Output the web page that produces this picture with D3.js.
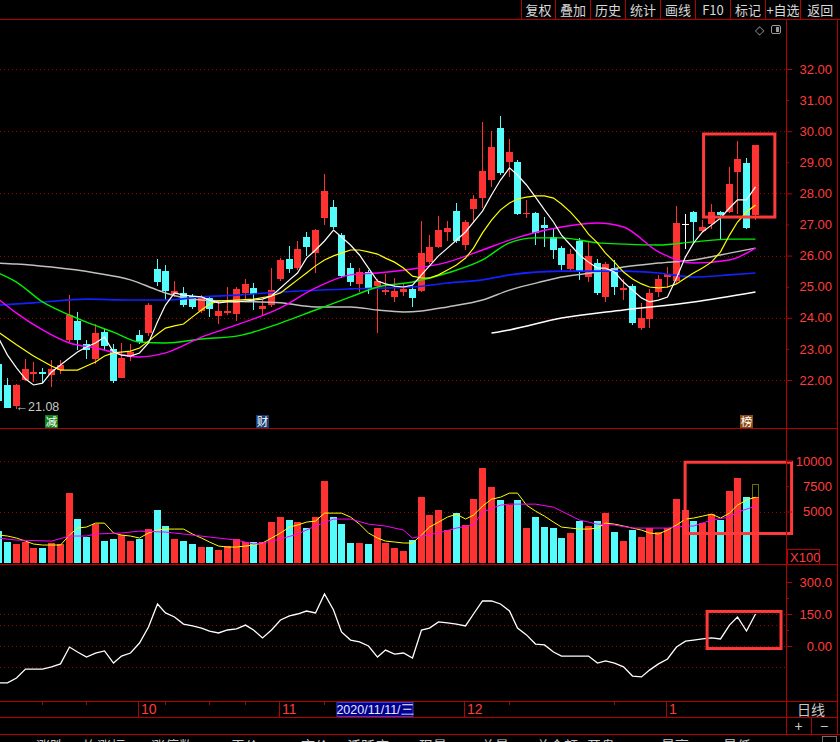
<!DOCTYPE html>
<html>
<head>
<meta charset="utf-8">
<script src="https://cdn.jsdelivr.net/npm/d3@7"></script>
<style>
  body { margin: 0; background: #000; overflow: hidden; }
  svg { display: block; }
  text { font-family: "Liberation Sans", Arial, sans-serif; }
  .cjk { font-family: "Noto Sans CJK SC", sans-serif; }
</style>
</head>
<body>
<div id="chart"></div>
<script>
// ---- data ----
const dates = [
  "2020-09-09","2020-09-10","2020-09-11","2020-09-14","2020-09-15","2020-09-16","2020-09-17","2020-09-18",
  "2020-09-21","2020-09-22","2020-09-23","2020-09-24","2020-09-25","2020-09-28","2020-09-29","2020-09-30",
  "2020-10-09","2020-10-12","2020-10-13","2020-10-14","2020-10-15","2020-10-16","2020-10-19","2020-10-20",
  "2020-10-21","2020-10-22","2020-10-23","2020-10-26","2020-10-27","2020-10-28","2020-10-29","2020-10-30",
  "2020-11-02","2020-11-03","2020-11-04","2020-11-05","2020-11-06","2020-11-09","2020-11-10","2020-11-11",
  "2020-11-12","2020-11-13","2020-11-16","2020-11-17","2020-11-18","2020-11-19","2020-11-20","2020-11-23",
  "2020-11-24","2020-11-25","2020-11-26","2020-11-27","2020-11-30",
  "2020-12-01","2020-12-02","2020-12-03","2020-12-04","2020-12-07","2020-12-08","2020-12-09","2020-12-10",
  "2020-12-11","2020-12-14","2020-12-15","2020-12-16","2020-12-17","2020-12-18","2020-12-21","2020-12-22",
  "2020-12-23","2020-12-24","2020-12-25","2020-12-28","2020-12-29","2020-12-30","2020-12-31",
  "2021-01-04","2021-01-05","2021-01-06","2021-01-07","2021-01-08","2021-01-11","2021-01-12","2021-01-13",
  "2021-01-14","2021-01-15","2021-01-18"
];

const opens = [22.51,21.84,21.16,22.00,22.19,22.26,22.16,22.32,23.29,23.90,
  23.16,22.68,23.54,23.00,22.06,22.74,23.45,23.51,25.57,25.50,
  24.77,24.80,24.70,24.22,24.64,24.06,24.15,24.12,24.80,24.96,
  24.28,24.41,25.25,25.89,25.60,26.60,26.08,27.21,27.56,26.66,
  25.60,25.09,25.47,25.02,24.83,24.67,24.83,24.93,24.86,25.79,
  26.28,26.76,27.43,26.34,27.50,27.85,28.43,30.10,29.01,29.01,
  27.34,27.37,26.98,26.60,26.24,25.57,26.47,25.31,25.76,24.67,
  25.60,24.89,25.02,23.67,23.96,24.83,25.31,25.18,27.03,27.40,
  26.79,27.02,27.40,27.40,28.69,28.98,27.31];
const highs = [22.55,22.06,21.88,22.68,22.58,22.39,22.64,22.64,24.73,24.19,
  23.29,23.80,23.64,23.16,23.19,23.16,23.61,24.48,25.89,25.70,
  25.18,24.99,24.77,24.73,24.70,24.57,24.99,24.99,25.25,25.12,
  24.57,25.60,25.92,26.31,26.47,26.76,26.86,28.62,27.79,26.73,
  25.76,25.60,25.54,25.25,25.41,25.28,25.09,25.02,27.11,26.66,
  27.27,27.11,27.69,27.14,27.95,30.30,30.01,30.49,29.75,29.07,
  27.79,27.40,27.24,26.86,26.31,26.21,26.57,26.44,25.89,25.79,
  25.86,25.25,25.09,24.48,24.93,25.38,25.63,27.60,27.34,27.43,
  27.14,27.66,27.43,28.85,29.68,29.14,29.56];
const lows = [21.30,21.10,21.08,21.97,21.94,21.90,21.77,22.19,23.22,22.96,
  22.68,22.51,22.96,21.90,22.06,22.61,23.16,23.41,25.02,24.57,
  24.67,24.35,24.28,24.15,24.03,23.80,24.09,23.90,24.60,24.25,
  24.09,24.35,25.18,25.44,25.54,25.99,25.44,26.98,26.86,25.28,
  25.02,24.83,24.77,23.51,24.73,24.51,24.70,24.35,24.83,25.73,
  26.24,26.47,26.41,26.18,27.05,27.53,28.21,28.59,28.53,27.31,
  27.21,26.34,26.28,25.89,25.54,25.50,25.22,25.15,24.73,24.51,
  24.73,24.57,23.77,23.61,23.67,24.67,24.96,25.12,26.21,26.44,
  26.76,26.86,26.50,27.37,27.34,26.86,27.14];
const closes = [21.32,21.10,21.84,22.35,22.26,22.19,22.35,22.48,24.09,23.29,
  22.96,23.51,23.09,21.97,22.71,22.90,23.22,24.41,25.15,24.86,
  24.86,24.41,24.35,24.67,24.28,24.22,24.22,24.93,25.09,24.77,
  24.38,24.89,25.86,25.57,26.21,26.28,26.82,28.08,26.92,25.34,
  25.15,25.47,24.96,25.18,24.89,24.86,24.93,24.64,26.08,26.28,
  26.82,26.89,26.47,27.08,27.82,28.72,29.49,28.66,29.33,27.34,
  27.37,26.73,26.89,26.18,25.70,26.05,25.50,25.99,24.80,25.73,
  24.99,24.96,23.83,23.99,24.80,25.25,25.41,27.05,27.03,27.08,
  26.92,27.40,27.31,28.30,29.11,26.89,29.56];

// price moving averages (MA5 per day, the others as [day index, value])
const ma5 = [23.35,22.80,22.39,22.03,21.84,21.90,22.26,22.48,22.71,22.90,
  23.06,23.19,23.38,22.90,22.80,22.77,22.87,23.19,23.87,24.41,
  24.80,24.73,24.70,24.67,24.57,24.48,24.51,24.51,24.54,24.57,
  24.60,24.70,24.96,25.22,25.44,25.92,26.18,26.47,26.82,26.60,
  26.34,26.02,25.60,25.18,25.09,25.02,24.99,25.05,25.38,25.67,
  25.99,26.24,26.50,26.76,27.08,27.43,27.95,28.43,28.82,28.59,
  28.27,27.88,27.47,27.08,26.66,26.34,26.02,25.79,25.60,25.60,
  25.47,25.15,24.89,24.64,24.51,24.57,24.67,25.28,25.96,26.40,
  26.76,26.98,27.21,27.53,27.79,27.79,28.21];
const ma10 = [[0,23.54],[2,23.13],[4,22.77],[6,22.45],[7,22.32],[9,22.32],[10,22.45],[11,22.58],[12,22.77],
  [13,22.87],[15,22.93],[16,23.03],[17,23.25],[18,23.48],[19,23.67],[20,23.74],[21,23.80],[22,24.03],
  [23,24.25],[24,24.44],[25,24.54],[27,24.57],[29,24.60],[31,24.70],[32,24.80],[33,25.02],[34,25.22],
  [35,25.44],[36,25.67],[37,25.86],[38,25.99],[39,26.08],[40,26.18],[41,26.18],[42,26.12],[43,26.05],
  [44,25.92],[45,25.79],[46,25.60],[47,25.34],[48,25.28],[49,25.28],[50,25.38],[51,25.54],[52,25.70],
  [53,25.92],[54,26.24],[55,26.73],[56,27.14],[57,27.47],[58,27.69],[59,27.82],[60,27.88],[61,27.92],
  [62,27.92],[63,27.85],[64,27.66],[65,27.40],[66,27.08],[67,26.69],[68,26.41],[69,26.08],[70,25.79],
  [71,25.47],[72,25.25],[73,25.09],[74,24.99],[75,24.96],[76,24.99],[77,25.09],[78,25.28],[79,25.44],
  [80,25.60],[81,25.79],[82,26.12],[83,26.66],[84,27.08],[85,27.40],[86,27.63]];
const ma20 = [[0,24.60],[2,24.15],[5,23.61],[8,23.19],[11,23.03],[16,22.74],[19,22.87],[23,23.38],[27,23.77],
  [32,24.32],[36,24.96],[40,25.38],[43,25.44],[47,25.57],[51,25.79],[55,26.18],[58,26.50],[64,26.92],
  [68,27.05],[71,26.92],[75,26.12],[79,25.76],[83,25.86],[86,26.24]];
const ma30 = [[0,25.44],[2,25.15],[5,24.51],[8,24.09],[10,23.86],[13,23.54],[16,23.22],[19,23.19],[23,23.32],
  [27,23.41],[32,23.83],[36,24.25],[40,24.67],[43,24.99],[47,25.15],[51,25.44],[55,25.86],[58,26.41],
  [61,26.57],[64,26.57],[68,26.41],[71,26.37],[75,26.34],[79,26.44],[83,26.53],[86,26.53]];
const ma60 = [[0,24.41],[4,24.48],[10,24.60],[15,24.57],[19,24.57],[23,24.67],[27,24.73],[32,24.83],[40,24.93],
  [47,24.99],[51,25.12],[55,25.22],[58,25.38],[64,25.50],[71,25.50],[75,25.44],[79,25.31],[83,25.38],[86,25.44]];
const ma120 = [[0,25.76],[2,25.73],[6,25.63],[11,25.44],[15,25.22],[18,24.89],[19,24.80],[23,24.57],[32,24.48],
  [36,24.35],[40,24.35],[43,24.25],[46,24.19],[48,24.22],[51,24.35],[55,24.57],[58,24.89],[62,25.18],
  [64,25.31],[68,25.47],[71,25.63],[75,25.76],[79,25.86],[83,26.08],[86,26.24]];
const ma250 = [[56,23.51],[58,23.61],[64,23.99],[71,24.25],[79,24.51],[86,24.83]];

// volume in units of 100 shares
const volumes = [3060,1980,1780,1980,1380,1380,1880,1780,6820,4250,
  2470,3750,2070,2270,2670,2070,2270,3260,5140,3560,
  2270,2070,1780,1480,1480,1190,1580,2270,1980,1980,
  1980,3950,4450,4150,3950,3360,4450,8000,4450,3750,
  1880,1880,1780,3360,1880,1380,1090,2170,6420,4640,
  5140,3160,4840,3660,6220,9290,7410,6130,5630,6130,
  3360,4450,3460,3360,2370,2870,4050,3560,4050,4840,
  2960,2070,3160,2470,3360,2960,3360,6220,5140,4050,
  3850,4740,4150,7010,8300,6420,6420];
const volMa5 = [2670,2570,2370,2070,1780,1680,1680,1680,2670,3360,
  3460,3850,3850,2870,2670,2570,2370,2870,3160,3260,
  3260,3260,2770,2370,1980,1580,1480,1480,1580,1680,
  1880,2370,2870,3460,3660,3950,4050,4840,4840,4840,
  4450,3750,2870,2370,2070,1980,1880,1880,2670,3460,
  3950,4450,4740,4250,4640,5530,6220,6420,6820,6820,
  5630,5040,4540,3950,3460,3360,3260,3260,3360,3850,
  3750,3560,3360,3160,2870,2770,3160,3660,4250,4350,
  4540,4740,4350,4840,5630,6130,6420];
const volMa10 = [[0,2370],[2,2170],[6,2070],[8,2570],[10,2570],[11,2770],[14,2870],[16,3060],[19,2960],
  [21,2770],[24,2470],[27,2170],[29,1780],[30,1880],[32,2270],[34,2770],[36,3560],[38,4250],[40,4250],
  [42,3750],[44,3560],[46,3160],[47,2370],[48,2570],[50,2870],[52,3360],[54,3660],[55,4940],[57,5630],
  [58,5730],[61,5730],[63,5430],[66,4150],[68,3750],[70,3660],[72,3360],[74,3360],[76,3360],[78,3560],
  [79,3560],[81,4150],[83,4450],[84,4940],[86,5530]];
const projectedVolume = 7700;

// lower indicator
const indicator = [-173,-173,-150,-108,-108,-108,-98,-84,-5,-28,
  -52,-33,-23,-80,-47,-33,14,89,197,155,
  136,103,94,84,70,61,75,80,98,75,
  38,75,122,141,150,164,155,244,169,66,
  28,19,0,-52,-19,-38,-33,-56,75,84,
  113,108,103,94,150,211,211,197,164,84,
  52,9,5,-28,-47,-47,-47,-47,-80,-70,
  -80,-98,-141,-145,-113,-84,-61,-5,23,28,
  33,38,33,98,136,70,150];

// ticks and labels
const priceTicks = [22,23,24,25,26,27,28,29,30,31,32];
const priceGrid = [22,24,26,28,30,32];
const volTicks = [5000,7500,10000];
const volGrid = [5000,10000];
const indTicks = [0,75,150,225,300];
const indGrid = [-100,0,100,150];
const monthTicks = [["2020-10-09","10"],["2020-11-02","11"],["2020-12-01","12"],["2021-01-04","1"]];
const weekTicks = ["2020-09-16","2020-09-23","2020-10-14","2020-10-21","2020-10-27","2020-11-09","2020-12-08","2020-12-24"];
const cursorDate = "2020-11-11", cursorLabel = "2020/11/11/三";
const events = [["2020-09-17","减","#12801a"],["2020-10-29","财","#163e72"],["2021-01-15","榜","#8a4a12"]];
const toolButtons = ["复权","叠加","历史","统计","画线","F10","标记","+自选","返回"];
const bottomTabs = ["涨跌","均涨幅","涨停数","平价","市价","活跃度","现量","总量","总金额","开盘","最高","最低"];
// highlight boxes: [first day index, last day index, upper value, lower value]
const priceBox = [80.1, 88.2, 29.91, 27.24];
const volBox = [78.0, 90.1, 9880, 2820];
const indBox = [80.5, 88.9, 162, -12];

// ---- layout ----
const W = 840, H = 742;
const plotR = 786, sideR = 837;
const RED = "#ff3232", CYAN = "#54fcfc", FRAME = "#b40000", GRID = "#a00000",
      LABEL = "#ff3c3c", GREY = "#c8c8c8";

const svg = d3.select("#chart").append("svg").attr("width", W).attr("height", H);
svg.append("rect").attr("width", W).attr("height", H).attr("fill", "#000");
const defs = svg.append("defs");

const x = d3.scaleBand().domain(dates).range([-5.7, 759.9]).paddingInner(0.2).paddingOuter(0.1);
const bw = Math.round(x.bandwidth());
const bx = d => Math.round(x(d));
const mid = d => bx(d) + 3.5;
const kx = k => x(dates[0]) + x.bandwidth() / 2 + k * x.step();

const yP = d3.scaleLinear().domain([22, 32]).range([380, 69]);
const yV = d3.scaleLinear().domain([0, 10000]).range([562, 461]);
const yI = d3.scaleLinear().domain([0, 300]).range([646, 582]);

const candles = dates.map((d, i) => ({date: d, o: opens[i], h: highs[i], l: lows[i], c: closes[i], v: volumes[i]}));
const candleColor = d => d.c > d.o ? RED : d.c < d.o ? CYAN : "#ffffff";
const volColor = d => d.c >= d.o ? RED : CYAN;

function panel(id, y0, y1) {
  defs.append("clipPath").attr("id", id).append("rect")
    .attr("x", 0).attr("y", y0).attr("width", plotR).attr("height", y1 - y0);
  return svg.append("g").attr("clip-path", `url(#${id})`);
}
function dotted(g, scale, vals) {
  g.selectAll(null).data(vals).enter().append("line")
    .attr("x1", 0).attr("x2", plotR)
    .attr("y1", v => Math.round(scale(v)) + 0.5).attr("y2", v => Math.round(scale(v)) + 0.5)
    .attr("stroke", GRID).attr("stroke-dasharray", "1,3");
}
function pairLine(g, scale, pts, color, width, curve) {
  g.append("path").datum(pts)
    .attr("d", d3.line().x(p => mid(dates[p[0]])).y(p => scale(p[1])).curve(curve || d3.curveLinear))
    .attr("fill", "none").attr("stroke", color).attr("stroke-width", width);
}
const asPairs = arr => arr.map((v, i) => [i, v]);

// ---- price panel ----
const gMain = panel("clipMain", 20, 428);
dotted(gMain, yP, priceGrid);

const cg = gMain.selectAll("g.candle").data(candles).enter().append("g").attr("class", "candle");
cg.append("line")
  .attr("x1", d => mid(d.date)).attr("x2", d => mid(d.date))
  .attr("y1", d => Math.round(yP(d.h))).attr("y2", d => Math.round(yP(d.l)))
  .attr("stroke", candleColor).attr("shape-rendering", "crispEdges");
cg.append("rect")
  .attr("x", d => bx(d.date)).attr("width", bw)
  .attr("y", d => Math.round(yP(Math.max(d.o, d.c))))
  .attr("height", d => Math.max(1, Math.round(yP(Math.min(d.o, d.c))) - Math.round(yP(Math.max(d.o, d.c)))))
  .attr("fill", candleColor).attr("shape-rendering", "crispEdges");

pairLine(gMain, yP, ma120, "#c0c0c0", 1.5, d3.curveMonotoneX);
pairLine(gMain, yP, ma60, "#1420ff", 1.6, d3.curveMonotoneX);
pairLine(gMain, yP, ma30, "#00ee00", 1.4, d3.curveMonotoneX);
pairLine(gMain, yP, ma20, "#ff00ff", 1.4, d3.curveMonotoneX);
pairLine(gMain, yP, ma10, "#ffff00", 1.2);
pairLine(gMain, yP, asPairs(ma5), "#ffffff", 1.2);
pairLine(gMain, yP, ma250, "#ffffff", 1.5, d3.curveMonotoneX);

// lowest low marker
const lowI = d3.minIndex(lows);
gMain.append("text").attr("x", mid(dates[lowI]) - 1).attr("y", yP(lows[lowI]) + 2)
  .attr("fill", GREY).style("font-size", "12.5px").text("←" + lows[lowI].toFixed(2));

// event badges
const ev = svg.selectAll("g.ev").data(events).enter().append("g");
ev.append("rect").attr("x", d => mid(d[0]) - 6.5).attr("y", 415).attr("width", 13).attr("height", 13).attr("fill", d => d[2]);
ev.append("text").attr("class", "cjk").attr("x", d => mid(d[0])).attr("y", 426)
  .attr("text-anchor", "middle").attr("fill", "#ffffff").style("font-size", "11.5px").text(d => d[1]);

// ---- volume panel ----
const gVol = panel("clipVol", 429, 564);
dotted(gVol, yV, volGrid);
gVol.selectAll("rect.vol").data(candles).enter().append("rect")
  .attr("x", d => bx(d.date)).attr("width", bw)
  .attr("y", d => Math.round(yV(d.v))).attr("height", d => 563 - Math.round(yV(d.v)))
  .attr("fill", volColor).attr("shape-rendering", "crispEdges");
pairLine(gVol, yV, asPairs(volMa5), "#ffff00", 1);
pairLine(gVol, yV, volMa10, "#ff00ff", 1);
const lastC = candles[candles.length - 1];
svg.append("rect").attr("x", bx(lastC.date) + 0.5).attr("y", Math.round(yV(projectedVolume)) + 0.5)
  .attr("width", bw - 1).attr("height", Math.round(yV(lastC.v)) - Math.round(yV(projectedVolume)))
  .attr("fill", "none").attr("stroke", "#e0e000").attr("stroke-dasharray", "1,1");

// ---- indicator panel ----
const gInd = panel("clipInd", 565, 701);
dotted(gInd, yI, indGrid);
pairLine(gInd, yI, asPairs(indicator), "#ffffff", 1.3);

// ---- highlight boxes ----
function hiBox(b, scale) {
  svg.append("rect").attr("x", kx(b[0])).attr("y", scale(b[2]))
    .attr("width", kx(b[1]) - kx(b[0])).attr("height", scale(b[3]) - scale(b[2]))
    .attr("fill", "none").attr("stroke", "#ff3a3a").attr("stroke-width", 3);
}
hiBox(priceBox, yP);
hiBox(volBox, yV);
hiBox(indBox, yI);

// ---- right axes ----
function sideAxis(scale, vals, size, fmt) {
  const g = svg.append("g").attr("transform", `translate(${plotR},0)`)
    .call(d3.axisRight(scale).tickValues(vals).tickSize(size).tickFormat(fmt));
  g.select(".domain").remove();
  g.attr("font-family", null).attr("font-size", null);
  g.selectAll("line").attr("stroke", FRAME);
  g.selectAll("text").attr("x", 832 - plotR).attr("text-anchor", "end")
    .attr("fill", LABEL).style("font-size", "13px");
}
sideAxis(yP, priceTicks.filter(v => v % 2 === 0), 6, d3.format(".2f"));
sideAxis(yP, priceTicks.filter(v => v % 2 !== 0), 3, d3.format(".2f"));
sideAxis(yV, volTicks.filter(v => v % 5000 === 0), 6, d3.format("d"));
sideAxis(yV, volTicks.filter(v => v % 5000 !== 0), 3, d3.format("d"));
sideAxis(yI, indTicks.filter(v => v % 150 === 0), 6, v => v === 0 ? "0.00" : v.toFixed(1));
sideAxis(yI, indTicks.filter(v => v % 150 !== 0), 3, () => "");

// ---- frame ----
const hl = (x1, x2, y) => svg.append("line").attr("x1", x1).attr("x2", x2).attr("y1", y).attr("y2", y).attr("stroke", FRAME);
const vl = (xx, y1, y2) => svg.append("line").attr("x1", xx).attr("x2", xx).attr("y1", y1).attr("y2", y2).attr("stroke", FRAME);
hl(0, W, 19.5);
hl(0, sideR, 428.5);
hl(0, sideR, 564.5);
hl(0, sideR, 701.5);
hl(0, sideR, 717.5);
hl(0, W, 734.5);
vl(plotR + 0.5, 19.5, 734.5);
vl(sideR + 0.5, 19.5, 734.5);
vl(811.5, 717.5, 734.5);

// toolbar
const btnEdges = [521.5, 555.5, 590.5, 625.5, 660.5, 695.5, 730.5, 765.5, 800.5, 840];
btnEdges.slice(0, -1).forEach(e => vl(e, 0, 19.5));
svg.selectAll("text.btn").data(toolButtons).enter().append("text").attr("class", "cjk")
  .attr("x", (d, i) => (btnEdges[i] + btnEdges[i + 1]) / 2).attr("y", 15)
  .attr("text-anchor", "middle").attr("fill", "#d8d8d8").style("font-size", "13px").text(d => d);
svg.append("text").attr("x", 759).attr("y", 34).attr("text-anchor", "middle")
  .attr("fill", "#9a9a9a").style("font-size", "12px").text("◇");
svg.append("rect").attr("x", 771.5).attr("y", 25.5).attr("width", 9).attr("height", 8).attr("rx", 1.5)
  .attr("fill", "none").attr("stroke", "#9a9a9a");
svg.append("rect").attr("x", 776).attr("y", 27).attr("width", 3).attr("height", 5).attr("fill", "#9a9a9a");

// X100 box
svg.append("rect").attr("x", 787.5).attr("y", 549.5).attr("width", 32).attr("height", 15)
  .attr("fill", "none").attr("stroke", FRAME);
svg.append("text").attr("x", 790).attr("y", 562).attr("fill", LABEL).style("font-size", "13px").text("X100");

// ---- date row ----
svg.selectAll("line.wk").data(weekTicks).enter().append("line")
  .attr("x1", d => mid(d)).attr("x2", d => mid(d)).attr("y1", 701.5).attr("y2", 705).attr("stroke", FRAME);
monthTicks.forEach(([d, lab]) => {
  vl(mid(d) - 1, 701.5, 717.5);
  svg.append("text").attr("x", mid(d) + 1.5).attr("y", 714).attr("fill", LABEL)
    .style("font-size", "14px").text(lab);
});
svg.append("rect").attr("x", mid(cursorDate) - 4.5).attr("y", 702.5).attr("width", 76).attr("height", 14)
  .attr("fill", "#00008c").attr("stroke", "#3a3ad0");
svg.append("text").attr("x", mid(cursorDate) + 33.5).attr("y", 714).attr("text-anchor", "middle")
  .attr("fill", "#e8e8ff").style("font-size", "12.5px").text(cursorLabel);
svg.append("text").attr("class", "cjk").attr("x", 811).attr("y", 714.5).attr("text-anchor", "middle")
  .attr("fill", GREY).style("font-size", "14px").text("日线");
svg.append("text").attr("x", 798.5).attr("y", 731).attr("text-anchor", "middle")
  .attr("fill", GREY).style("font-size", "14px").text("+");
svg.append("text").attr("x", 824).attr("y", 731).attr("text-anchor", "middle")
  .attr("fill", GREY).style("font-size", "14px").text("−");

// bottom tabs (cut off by the window edge, as in the source)
const tabX = [36, 83, 151, 231, 301, 347, 419, 481, 536, 587, 661, 723];
svg.selectAll("text.tab").data(bottomTabs).enter().append("text").attr("class", "cjk")
  .attr("x", (d, i) => tabX[i]).attr("y", 751).attr("fill", GREY).style("font-size", "14px").text(d => d);
svg.append("rect").attr("x", 822.5).attr("y", 736.5).attr("width", 14).attr("height", 10)
  .attr("fill", "none").attr("stroke", "#707070");
</script>
</body>
</html>
